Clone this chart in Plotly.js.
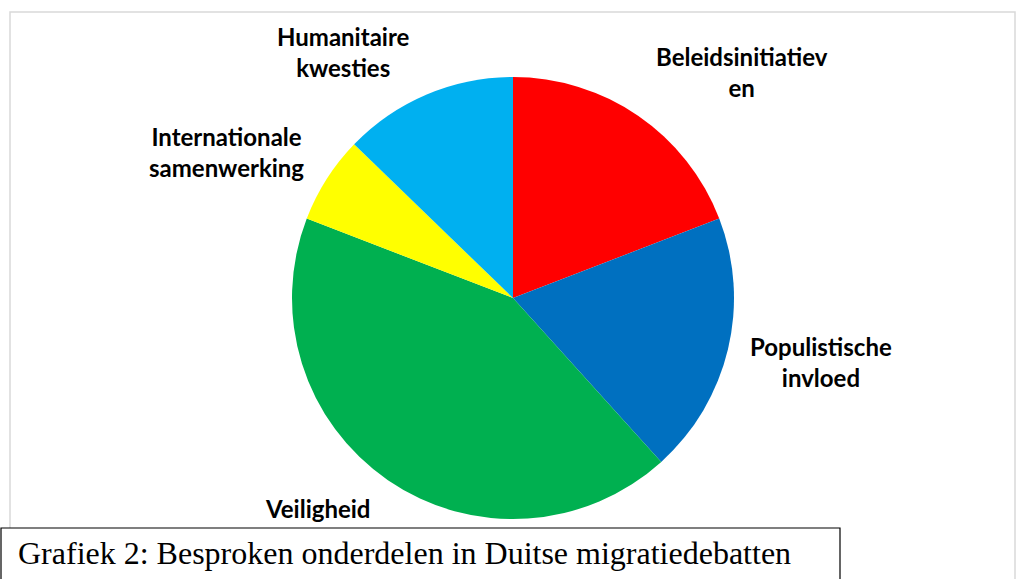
<!DOCTYPE html>
<html>
<head>
<meta charset="utf-8">
<script src="https://cdn.plot.ly/plotly-3.0.1.min.js"></script>
<style>html,body{margin:0;padding:0;background:#fff;}#chart{width:1021px;height:579px;}</style>
</head>
<body>
<div id="chart"></div>
<script>
// Data (counts, clockwise from 12 o'clock)
var categories = ["Beleidsinitiatieven", "Populistische invloed", "Veiligheid", "Internationale samenwerking", "Humanitaire kwesties"];
var labelTexts = ["Beleidsinitiatiev<br>en", "Populistische<br>invloed", "Veiligheid", "Internationale<br>samenwerking", "Humanitaire<br>kwesties"];
var values = [9, 9, 20, 3, 6];
var colors = ["#FF0000", "#0070C0", "#00B050", "#FFFF00", "#00B0F0"];
var caption = "Grafiek 2: Besproken onderdelen in Duitse migratiedebatten";

var W = 1021, H = 579;
function px(x) { return x / W; }
function py(y) { return 1 - y / H; }

// label anchor positions (pixels) for each category label
var labelPos = [[742, 72], [821, 362], [317, 508], [226, 152], [343, 52]];

var trace = {
  type: "pie",
  labels: categories,
  values: values,
  sort: false,
  direction: "clockwise",
  rotation: 0,
  marker: {colors: colors, line: {width: 0}},
  textinfo: "none",
  hoverinfo: "label+value+percent",
  showlegend: false,
  domain: {x: [px(292), px(734)], y: [py(519), py(77)]}
};

var annotations = labelTexts.map(function (t, i) {
  return {
    text: "<b>" + t + "</b>", xref: "paper", yref: "paper",
    x: px(labelPos[i][0]), y: py(labelPos[i][1]),
    xanchor: "center", yanchor: "middle", showarrow: false, align: "center",
    font: {family: "Lato, 'Open Sans', sans-serif", size: 24, color: "#000"}
  };
});
annotations.push({
  text: caption, xref: "paper", yref: "paper", x: px(16), y: py(553),
  xanchor: "left", yanchor: "middle", showarrow: false,
  font: {family: "'Liberation Serif', 'Times New Roman', serif", size: 32, color: "#000"}
});

var layout = {
  width: W, height: H,
  margin: {l: 0, r: 0, t: 0, b: 0},
  paper_bgcolor: "#fff",
  shapes: [
    {type: "rect", xref: "paper", yref: "paper", x0: px(10), x1: px(1015), y0: py(590), y1: py(12),
     line: {color: "#D9D9D9", width: 1.5}, fillcolor: "rgba(0,0,0,0)", layer: "below"},
    {type: "rect", xref: "paper", yref: "paper", x0: px(1), x1: px(840), y0: py(590), y1: py(528),
     line: {color: "#000", width: 1.2}, fillcolor: "#fff", layer: "above"}
  ],
  annotations: annotations
};

Plotly.newPlot("chart", [trace], layout, {displayModeBar: false, staticPlot: true});
</script>
</body>
</html>
